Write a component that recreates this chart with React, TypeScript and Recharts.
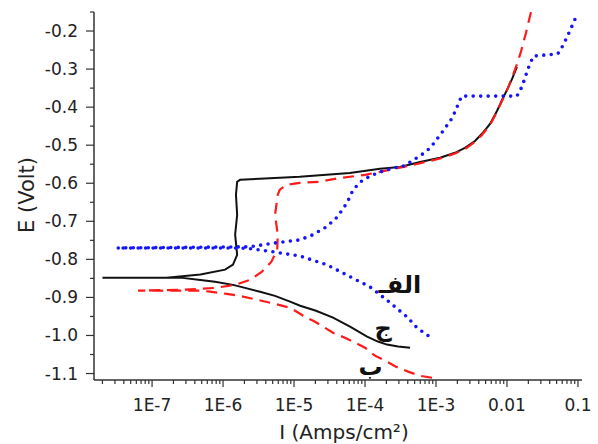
import React from 'react';
import { LineChart, Line, XAxis, YAxis, ReferenceDot, Label } from 'recharts';

// black solid curve (ج): cathodic end -> Ecorr -> anodic branch
const blackCurve = [
  { i: 4.31e-4, e: -1.032 }, { i: 2.92e-4, e: -1.029 }, { i: 2.04e-4, e: -1.024 },
  { i: 1.52e-4, e: -1.016 }, { i: 1.07e-4, e: -1.003 }, { i: 6.15e-5, e: -0.977 },
  { i: 3.54e-5, e: -0.953 }, { i: 2.04e-5, e: -0.935 }, { i: 1.22e-5, e: -0.922 },
  { i: 8.79e-6, e: -0.911 }, { i: 5.39e-6, e: -0.896 }, { i: 3.32e-6, e: -0.885 },
  { i: 2.04e-6, e: -0.875 }, { i: 1.38e-6, e: -0.867 }, { i: 7.7e-7, e: -0.859 },
  { i: 4.8e-7, e: -0.854 }, { i: 2.5e-7, e: -0.848 }, { i: 2.0e-8, e: -0.848 },
  { i: 1.6e-7, e: -0.848 }, { i: 4.8e-7, e: -0.84 }, { i: 1.07e-6, e: -0.827 },
  { i: 1.38e-6, e: -0.814 }, { i: 1.58e-6, e: -0.788 }, { i: 1.48e-6, e: -0.735 },
  { i: 1.58e-6, e: -0.683 }, { i: 1.52e-6, e: -0.63 }, { i: 1.58e-6, e: -0.596 },
  { i: 1.74e-6, e: -0.591 }, { i: 3.3e-6, e: -0.588 }, { i: 1.2e-5, e: -0.583 },
  { i: 6.1e-5, e: -0.573 }, { i: 1.63e-4, e: -0.562 }, { i: 3.11e-4, e: -0.557 },
  { i: 5.96e-4, e: -0.544 }, { i: 1.14e-3, e: -0.533 }, { i: 1.85e-3, e: -0.52 },
  { i: 2.56e-3, e: -0.507 }, { i: 3.54e-3, e: -0.489 }, { i: 4.44e-3, e: -0.47 },
  { i: 5.77e-3, e: -0.444 }, { i: 7.23e-3, e: -0.41 }, { i: 8.79e-3, e: -0.376 },
  { i: 1.03e-2, e: -0.35 }, { i: 1.18e-2, e: -0.326 }, { i: 1.38e-2, e: -0.294 },
];

// red dashed curve (ب)
const redCurve = [
  { i: 8.79e-4, e: -1.111 }, { i: 5.96e-4, e: -1.106 }, { i: 4.04e-4, e: -1.095 },
  { i: 2.73e-4, e: -1.082 }, { i: 1.91e-4, e: -1.066 }, { i: 1.38e-4, e: -1.053 },
  { i: 1.0e-4, e: -1.032 }, { i: 7.22e-5, e: -1.019 }, { i: 5.22e-5, e: -1.006 },
  { i: 3.54e-5, e: -0.993 }, { i: 1.98e-5, e: -0.964 }, { i: 1.43e-5, e: -0.951 },
  { i: 8.79e-6, e: -0.927 }, { i: 5.39e-6, e: -0.917 }, { i: 3.01e-6, e: -0.906 },
  { i: 1.73e-6, e: -0.896 }, { i: 1.07e-6, e: -0.89 }, { i: 6.56e-7, e: -0.885 },
  { i: 4.8e-7, e: -0.882 }, { i: 6.35e-8, e: -0.882 },
  { i: 2.7e-7, e: -0.88 }, { i: 7.7e-7, e: -0.875 }, { i: 1.48e-6, e: -0.867 },
  { i: 2.4e-6, e: -0.854 }, { i: 3.5e-6, e: -0.833 }, { i: 4.8e-6, e: -0.806 },
  { i: 5.8e-6, e: -0.775 }, { i: 5.9e-6, e: -0.735 }, { i: 5.4e-6, e: -0.683 },
  { i: 5.9e-6, e: -0.63 }, { i: 6.3e-6, e: -0.617 }, { i: 7.9e-6, e: -0.604 },
  { i: 1.2e-5, e: -0.599 }, { i: 2.3e-5, e: -0.596 }, { i: 4.5e-5, e: -0.586 },
  { i: 1.0e-4, e: -0.578 }, { i: 2.2e-4, e: -0.565 }, { i: 4.7e-4, e: -0.552 },
  { i: 1.14e-3, e: -0.535 }, { i: 1.85e-3, e: -0.522 }, { i: 2.56e-3, e: -0.51 },
  { i: 3.54e-3, e: -0.491 }, { i: 4.44e-3, e: -0.473 }, { i: 5.77e-3, e: -0.447 },
  { i: 7.23e-3, e: -0.412 }, { i: 8.79e-3, e: -0.378 }, { i: 1.03e-2, e: -0.35 },
  { i: 1.22e-2, e: -0.315 }, { i: 1.38e-2, e: -0.287 }, { i: 1.57e-2, e: -0.255 },
  { i: 1.85e-2, e: -0.205 }, { i: 2.18e-2, e: -0.15 },
];

// blue dotted curve (الف)
const blueCurve = [
  { i: 7.7e-4, e: -1.0 }, { i: 5.4e-4, e: -0.98 }, { i: 3.9e-4, e: -0.951 },
  { i: 2.0e-4, e: -0.906 }, { i: 1.17e-4, e: -0.872 }, { i: 6.2e-5, e: -0.846 },
  { i: 2.9e-5, e: -0.814 }, { i: 1.2e-5, e: -0.791 }, { i: 5.0e-6, e: -0.78 },
  { i: 2.4e-6, e: -0.772 }, { i: 1.58e-6, e: -0.77 }, { i: 3.2e-8, e: -0.77 },
  { i: 2.4e-6, e: -0.767 }, { i: 5.8e-6, e: -0.756 }, { i: 1.2e-5, e: -0.749 },
  { i: 1.86e-5, e: -0.735 }, { i: 2.9e-5, e: -0.714 }, { i: 4.1e-5, e: -0.688 },
  { i: 5.6e-5, e: -0.651 }, { i: 6.8e-5, e: -0.617 }, { i: 9.3e-5, e: -0.591 },
  { i: 1.48e-4, e: -0.573 }, { i: 2.5e-4, e: -0.56 }, { i: 3.6e-4, e: -0.554 },
  { i: 6.3e-4, e: -0.525 }, { i: 8.3e-4, e: -0.507 }, { i: 1.2e-3, e: -0.468 },
  { i: 1.7e-3, e: -0.428 }, { i: 2.3e-3, e: -0.371 }, { i: 5.8e-3, e: -0.371 },
  { i: 1.38e-2, e: -0.371 }, { i: 1.62e-2, e: -0.347 }, { i: 2.0e-2, e: -0.297 },
  { i: 2.35e-2, e: -0.266 }, { i: 5.2e-2, e: -0.26 }, { i: 6.2e-2, e: -0.237 },
  { i: 7.8e-2, e: -0.197 }, { i: 9.8e-2, e: -0.155 },
];

const xMajor = [1e-7, 1e-6, 1e-5, 1e-4, 1e-3, 0.01, 0.1];
const xMajorLabels = ['1E-7', '1E-6', '1E-5', '1E-4', '1E-3', '0.01', '0.1'];
const yMajor = [-1.1, -1.0, -0.9, -0.8, -0.7, -0.6, -0.5, -0.4, -0.3, -0.2];
const yMajorLabels = ['-1.1', '-1.0', '-0.9', '-0.8', '-0.7', '-0.6', '-0.5', '-0.4', '-0.3', '-0.2'];
const yMinor = [-1.05, -0.95, -0.85, -0.75, -0.65, -0.55, -0.45, -0.35, -0.25, -0.15];

const xDomain: [number, number] = [1.52e-8, 0.114];
const yDomain: [number, number] = [-1.117, -0.15];

// minor log ticks 2..9 in each decade
const xMinor: number[] = [];
[1e-8, 1e-7, 1e-6, 1e-5, 1e-4, 1e-3, 1e-2].forEach((d) => {
  for (let k = 2; k <= 9; k++) {
    const v = d * k;
    if (v >= xDomain[0] && v <= xDomain[1]) xMinor.push(v);
  }
});
const xTicks = [...xMinor, ...xMajor].sort((a, b) => a - b);
const yTicks = [...yMinor, ...yMajor].sort((a, b) => a - b);

const axisColor = '#333';
const font = 'DejaVu Sans, sans-serif';

const XTick = (props: any) => {
  const { x, y, payload } = props;
  const idx = xMajor.findIndex((m) => Math.abs(Math.log10(m) - Math.log10(payload.value)) < 1e-6);
  const major = idx >= 0;
  return (
    <g>
      <line x1={x} x2={x} y1={y} y2={y + (major ? 7 : 4)} stroke={axisColor} strokeWidth={1.2} />
      {major && (
        <text x={x} y={y + 25} textAnchor="middle" dominantBaseline="central"
          fontSize={17} fontFamily={font} fill="#222">
          {xMajorLabels[idx]}
        </text>
      )}
    </g>
  );
};

const YTick = (props: any) => {
  const { x, y, payload } = props;
  const idx = yMajor.findIndex((m) => Math.abs(m - payload.value) < 1e-6);
  const major = idx >= 0;
  return (
    <g>
      <line x1={x} x2={x - (major ? 8 : 4)} y1={y} y2={y} stroke={axisColor} strokeWidth={1.2} />
      {major && (
        <text x={x - 16} y={y} textAnchor="end" dominantBaseline="central"
          fontSize={17} fontFamily={font} fill="#222">
          {yMajorLabels[idx]}
        </text>
      )}
    </g>
  );
};

const arabicLabel = (value: string) => ({
  value,
  position: 'center' as const,
  fontSize: 24,
  fontWeight: 'bold',
  fill: '#111',
  fontFamily: font,
});

export default function App() {
  return (
    <div style={{ position: 'absolute', left: 0, top: 0, width: 598, height: 444, background: '#fff' }}>
      <LineChart width={598} height={444} margin={{ top: 12, right: 16, bottom: 0, left: 0 }}>
        <XAxis
          type="number"
          dataKey="i"
          scale="log"
          domain={xDomain}
          allowDataOverflow
          ticks={xTicks}
          interval={0}
          tickSize={0}
          tickMargin={0}
          tick={<XTick />}
          height={64}
          axisLine={{ stroke: axisColor, strokeWidth: 1.5 }}
        >
          <Label
            content={() => (
              <text x={344} y={432} textAnchor="middle" dominantBaseline="central"
                fontSize={20} fontFamily={font} fill="#222">
                I (Amps/cm²)
              </text>
            )}
          />
        </XAxis>
        <YAxis
          type="number"
          dataKey="e"
          domain={yDomain}
          allowDataOverflow
          ticks={yTicks}
          interval={0}
          tickSize={0}
          tickMargin={0}
          tick={<YTick />}
          width={94}
          axisLine={{ stroke: axisColor, strokeWidth: 1.5 }}
        >
          <Label
            content={() => (
              <text x={27} y={195} textAnchor="middle" dominantBaseline="central"
                transform="rotate(-90 27 195)" fontSize={21} fontFamily={font} fill="#222">
                E (Volt)
              </text>
            )}
          />
        </YAxis>
        <Line data={blackCurve} dataKey="e" type="linear" stroke="#111" strokeWidth={2}
          dot={false} isAnimationActive={false} />
        <Line data={redCurve} dataKey="e" type="linear" stroke="#ff1a1a" strokeWidth={2.2}
          strokeDasharray="11 7" dot={false} isAnimationActive={false} />
        <Line data={blueCurve} dataKey="e" type="linear" stroke="#1414ff" strokeWidth={3.6}
          strokeDasharray="0 7.5" strokeLinecap="round" dot={false} isAnimationActive={false} />
        <ReferenceDot x={3.1e-4} y={-0.867} r={1} fill="none" stroke="none" label={arabicLabel('الفـ')} />
        <ReferenceDot x={1.8e-4} y={-0.98} r={1} fill="none" stroke="none" label={arabicLabel('ج')} />
        <ReferenceDot x={1.2e-4} y={-1.082} r={1} fill="none" stroke="none" label={arabicLabel('ب')} />
      </LineChart>
    </div>
  );
}
